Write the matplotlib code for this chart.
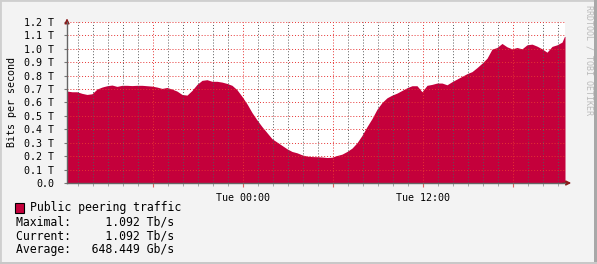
import numpy as np
import matplotlib
matplotlib.use("Agg")
import matplotlib.pyplot as plt
from matplotlib.ticker import FixedLocator, FuncFormatter, MultipleLocator
from matplotlib.patches import Rectangle

# hours relative to Tue 00:00, one sample every 20 minutes
t_start = -11.73
hours = list(t_start + np.arange(100) / 3.0) + [21.43]
# Tb/s
traffic = [
    0.685, 0.680, 0.680, 0.668, 0.660, 0.665, 0.700, 0.715, 0.725, 0.730,
    0.720, 0.728, 0.728, 0.726, 0.728, 0.728, 0.725, 0.722, 0.715, 0.705,
    0.712, 0.700, 0.685, 0.660, 0.655, 0.690, 0.735, 0.765, 0.770, 0.758,
    0.758, 0.752, 0.742, 0.728, 0.695, 0.645, 0.590, 0.525, 0.470, 0.420,
    0.375, 0.330, 0.305, 0.280, 0.255, 0.235, 0.225, 0.210, 0.200, 0.197,
    0.196, 0.194, 0.190, 0.192, 0.205, 0.215, 0.235, 0.260, 0.300, 0.355,
    0.420, 0.480, 0.550, 0.600, 0.635, 0.655, 0.670, 0.690, 0.710, 0.725,
    0.725, 0.680, 0.728, 0.735, 0.745, 0.745, 0.732, 0.755, 0.775, 0.795,
    0.815, 0.830, 0.860, 0.893, 0.930, 0.998, 1.010, 1.040, 1.015, 1.000,
    1.010, 1.000, 1.030, 1.035, 1.020, 1.000, 0.975, 1.018, 1.030, 1.050,
    1.092,
]
t_end = 21.47

y_ticks = [i / 10 for i in range(13)]
y_labels = ["0.0"] + ["%.1f T" % v for v in y_ticks[1:]]
x_labels = {0: "Tue 00:00", 12: "Tue 12:00"}

legend_name = "Public peering traffic"
stats = [("Maximal:", "1.092 Tb/s"), ("Current:", "1.092 Tb/s"), ("Average:", "648.449 Gb/s")]

area_col = "#C4003B"
mono = "DejaVu Sans Mono"

fig = plt.figure(figsize=(5.97, 2.64), dpi=100, facecolor="#F3F3F3")
ax = fig.add_axes([67 / 597, 1 - 183 / 264, 498 / 597, 161 / 264])
ax.set_facecolor("white")

xs = hours + [t_end]
ys = traffic + [traffic[-1]]
ax.fill_between(xs, ys, 0, color=area_col, lw=0, zorder=1)

ax.set_xlim(t_start, t_end)
ax.set_ylim(0, 1.2)

ax.xaxis.set_major_locator(FixedLocator([-6, 0, 6, 12, 18]))
ax.xaxis.set_minor_locator(MultipleLocator(1))
ax.xaxis.set_major_formatter(FuncFormatter(lambda v, p: x_labels.get(int(round(v)), "")))
ax.set_yticks(y_ticks)
ax.set_yticklabels(y_labels)

dots = (0, (1, 2))
ax.grid(True, which="minor", axis="x", color=(0.35, 0.35, 0.35, 0.18), ls=dots, lw=0.7, zorder=3)
ax.grid(True, which="major", axis="x", color=(0.9, 0.2, 0.2, 0.35), ls=dots, lw=0.7, zorder=3)
ax.grid(True, which="major", axis="y", color=(0.9, 0.2, 0.2, 0.3), ls=dots, lw=0.7, zorder=3)
ax.set_axisbelow(False)

ax.tick_params(axis="x", which="major", length=3, color="#E06060", pad=4, labelsize=7.2)
ax.tick_params(axis="x", which="minor", length=2, color="#999999")
ax.tick_params(axis="y", length=2, color="#777777", pad=7, labelsize=7.2)
for lab in ax.get_xticklabels() + ax.get_yticklabels():
    lab.set_fontfamily(mono)

for s in ["top", "right"]:
    ax.spines[s].set_visible(False)
for s in ["left", "bottom"]:
    ax.spines[s].set_color("#666666")
    ax.spines[s].set_linewidth(1)
    ax.spines[s].set_zorder(4)

# arrow heads at the ends of the axes
ax.annotate("", xy=(1.018, 0), xytext=(0.99, 0), xycoords="axes fraction",
            arrowprops=dict(arrowstyle="-|>", color="#8B1A1A", lw=1, mutation_scale=7),
            annotation_clip=False)
ax.annotate("", xy=(0, 1.04), xytext=(0, 0.98), xycoords="axes fraction",
            arrowprops=dict(arrowstyle="-|>", color="#8B1A1A", lw=1, mutation_scale=7),
            annotation_clip=False)

fig.text(12 / 597, 1 - 102 / 264, "Bits per second", rotation=90, ha="center", va="center",
         fontsize=7.2, family=mono, color="black")
fig.text(589 / 597, 1 - 60 / 264, "RRDTOOL / TOBI OETIKER", rotation=270, ha="center", va="center",
         fontsize=6, family=mono, color="#BBBBBB")

# legend
fig.patches.append(Rectangle((15 / 597, 1 - 213 / 264), 9 / 597, 10 / 264, transform=fig.transFigure,
                             facecolor=area_col, edgecolor="black", lw=0.8))
fig.text(30 / 597, 1 - 208 / 264, legend_name, ha="left", va="center", fontsize=8.3, family=mono)
for i, (name, val) in enumerate(stats):
    line = name + " " * (23 - len(name) - len(val)) + val
    fig.text(16 / 597, 1 - (222 + 14 * i) / 264, line, ha="left", va="center", fontsize=8.3, family=mono)

# 3d frame
fig.patches.append(Rectangle((0, 0), 1, 1, transform=fig.transFigure, fill=False,
                             edgecolor="#CFCFCF", lw=2))
fig.patches.append(Rectangle((0.995, 0), 0.005, 1, transform=fig.transFigure, facecolor="#A8A8A8", lw=0))
fig.patches.append(Rectangle((0, 0), 1, 0.008, transform=fig.transFigure, facecolor="#C8C8C8", lw=0))

fig.savefig("out.png", dpi=100, facecolor=fig.get_facecolor())
